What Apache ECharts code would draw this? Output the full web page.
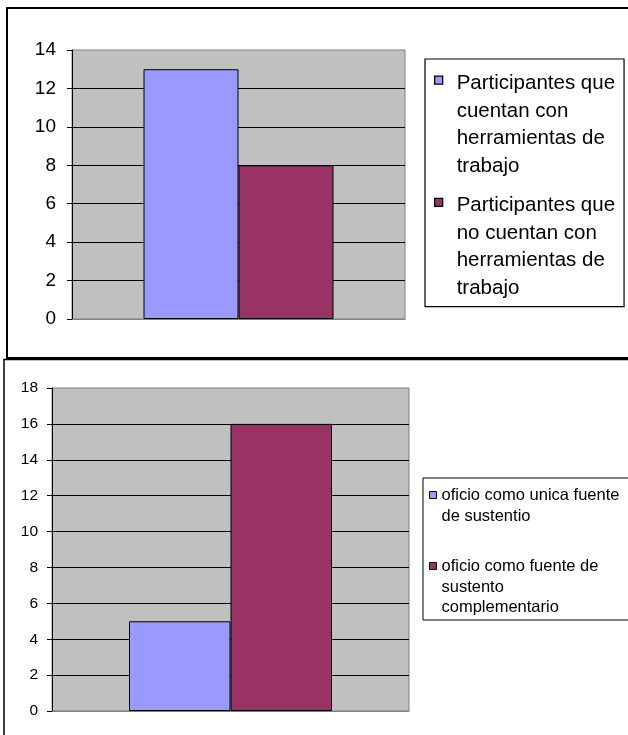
<!DOCTYPE html>
<html>
<head>
<meta charset="utf-8">
<script src="https://cdn.jsdelivr.net/npm/echarts@6/dist/echarts.min.js"></script>
<style>
  html, body { margin: 0; padding: 0; background: #fff; }
  #chart { width: 628px; height: 735px; }
</style>
</head>
<body>
<div id="chart"></div>
<script>
// ---- Data ----
const topCategories = [''];
const topSeriesNames = [
  'Participantes que cuentan con herramientas de trabajo',
  'Participantes que no cuentan con herramientas de trabajo'
];
const topLegendText = [
  'Participantes que\ncuentan con\nherramientas de\ntrabajo',
  'Participantes que\nno cuentan con\nherramientas de\ntrabajo'
];
const topValues1 = [13];
const topValues2 = [8];
const topTicks = { min: 0, max: 14, interval: 2 };

const bottomCategories = [''];
const bottomSeriesNames = [
  'oficio como unica fuente de sustentio',
  'oficio como fuente de sustento complementario'
];
const bottomLegendText = [
  'oficio como unica fuente\nde sustentio',
  'oficio como fuente de\nsustento\ncomplementario'
];
const bottomValues1 = [5];
const bottomValues2 = [16];
const bottomTicks = { min: 0, max: 18, interval: 2 };

const colorA = '#9999FF';
const colorB = '#993366';
const FONT = '"Liberation Sans", Arial, sans-serif';

const chart = echarts.init(document.getElementById('chart'), null, { renderer: 'canvas' });

function yAxisCfg(t, fontSize, margin, gridIndex) {
  return {
    type: 'value', gridIndex: gridIndex,
    min: t.min, max: t.max, interval: t.interval,
    axisLine: { show: true, lineStyle: { color: '#000', width: 1 } },
    axisTick: { show: true, length: 5, lineStyle: { color: '#000' } },
    axisLabel: { color: '#000', fontSize: fontSize, fontFamily: FONT, margin: margin },
    splitLine: { show: true, showMinLine: false, showMaxLine: false, lineStyle: { color: '#000', width: 1 } }
  };
}
function xAxisCfg(cats, gridIndex) {
  return {
    type: 'category', gridIndex: gridIndex, data: cats,
    axisLine: { show: true, lineStyle: { color: '#808080', width: 1 } },
    axisTick: { show: false },
    axisLabel: { show: false },
    splitLine: { show: false }
  };
}
function barSeries(name, data, color, idx, width) {
  return {
    type: 'bar', name: name, data: data,
    xAxisIndex: idx, yAxisIndex: idx,
    barWidth: width, barGap: '0%',
    itemStyle: { color: color, borderColor: '#000', borderWidth: 1 },
    emphasis: { disabled: true }
  };
}

const topIcon = 'path://M0,0 M17,110 M0,6.5 h8 v8 h-8 z';
const bottomIcon = 'path://M0,0 M7,61.5 M0,6 h7 v7 h-7 z';

chart.setOption({
  animation: false,
  backgroundColor: '#fff',
  graphic: [
    { type: 'rect', silent: true, shape: { x: 7, y: 8, width: 700, height: 350 },
      style: { fill: 'none', stroke: '#000', lineWidth: 2 } },
    { type: 'rect', silent: true, shape: { x: 4, y: 359.5, width: 700, height: 500 },
      style: { fill: 'none', stroke: '#000', lineWidth: 1.5 } }
  ],
  grid: [
    { left: 72, right: 223, top: 50, bottom: 416, show: true,
      backgroundColor: '#C0C0C0', borderColor: '#808080', borderWidth: 1 },
    { left: 52, right: 219, top: 388, bottom: 24, show: true,
      backgroundColor: '#C0C0C0', borderColor: '#808080', borderWidth: 1 }
  ],
  xAxis: [xAxisCfg(topCategories, 0), xAxisCfg(bottomCategories, 1)],
  yAxis: [yAxisCfg(topTicks, 19, 16, 0), yAxisCfg(bottomTicks, 15.5, 14, 1)],
  legend: [
    {
      left: 425, top: 59, orient: 'vertical',
      data: topSeriesNames.map(n => ({ name: n, icon: topIcon })),
      itemWidth: 17, itemHeight: 110, itemGap: 11,
      padding: [10, 9, 4, 9],
      borderColor: '#000', borderWidth: 1.2, backgroundColor: '#fff',
      selectedMode: false,
      itemStyle: { borderColor: '#000', borderWidth: 1.3 },
      textStyle: { color: '#000', fontSize: 20.5, lineHeight: 27.5, fontFamily: FONT },
      formatter: function (name) { return topLegendText[topSeriesNames.indexOf(name)]; }
    },
    {
      left: 423, top: 478, orient: 'vertical',
      data: bottomSeriesNames.map(n => ({ name: n, icon: bottomIcon })),
      itemWidth: 7, itemHeight: 61.5, itemGap: 8.5,
      padding: [7, 40, 1.5, 6],
      borderColor: '#000', borderWidth: 1, backgroundColor: '#fff',
      selectedMode: false,
      itemStyle: { borderColor: '#000', borderWidth: 1 },
      textStyle: { color: '#000', fontSize: 16.5, lineHeight: 20.5, fontFamily: FONT },
      formatter: function (name) {
        const t = bottomLegendText[bottomSeriesNames.indexOf(name)];
        return t.split('\n').length < 3 ? t + '\n ' : t;
      }
    }
  ],
  series: [
    barSeries(topSeriesNames[0], topValues1, colorA, 0, 95),
    barSeries(topSeriesNames[1], topValues2, colorB, 0, 95),
    barSeries(bottomSeriesNames[0], bottomValues1, colorA, 1, 101.5),
    barSeries(bottomSeriesNames[1], bottomValues2, colorB, 1, 101.5)
  ]
});
</script>
</body>
</html>
